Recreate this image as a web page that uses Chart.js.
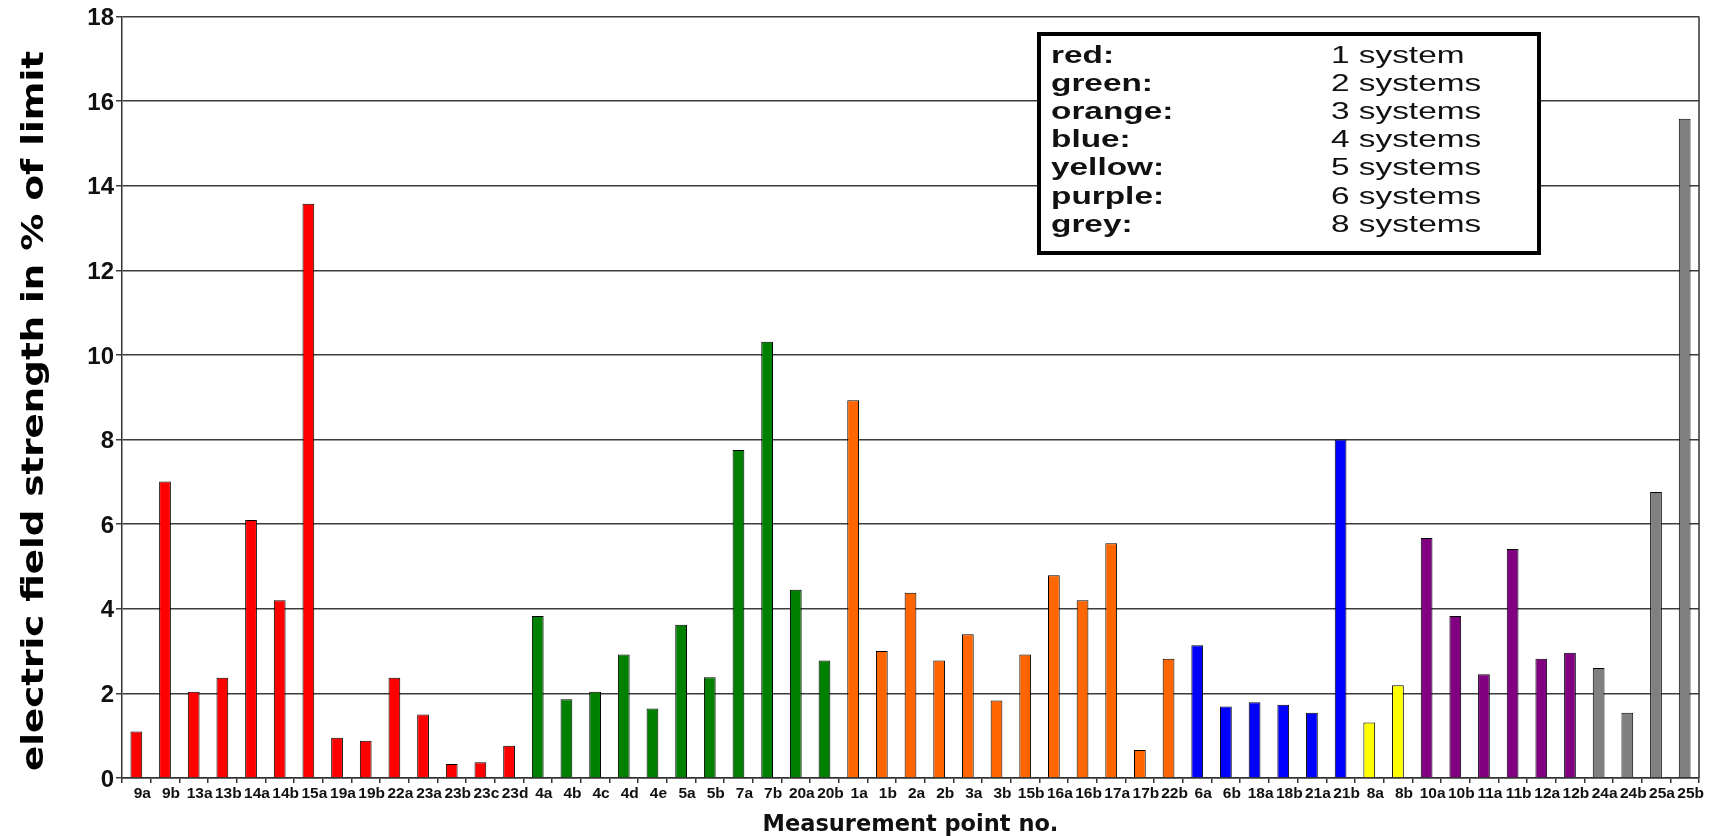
<!DOCTYPE html>
<html><head><meta charset="utf-8">
<script src="https://cdn.jsdelivr.net/npm/chart.js@4"></script>
<style>html,body{margin:0;padding:0;background:#fff;overflow:hidden}#wrap{width:1713px;height:836px;position:relative}</style>
</head><body><div id="wrap"><canvas id="c" width="1713" height="836"></canvas></div>
<script>
const redLabels = ['9a','9b','13a','13b','14a','14b','15a','19a','19b','22a','23a','23b','23c','23d'];
const redValues = [1.10,7.01,2.04,2.37,6.10,4.20,13.57,0.95,0.88,2.37,1.50,0.33,0.37,0.76];
const greenLabels = ['4a','4b','4c','4d','4e','5a','5b','7a','7b','20a','20b'];
const greenValues = [3.83,1.86,2.04,2.92,1.64,3.62,2.38,7.75,10.31,4.45,2.78];
const orangeLabels = ['1a','1b','2a','2b','3a','3b','15b','16a','16b','17a','17b','22b'];
const orangeValues = [8.93,3.00,4.38,2.78,3.40,1.83,2.92,4.79,4.20,5.55,0.66,2.82];
const blueLabels = ['6a','6b','18a','18b','21a','21b'];
const blueValues = [3.14,1.69,1.79,1.73,1.54,8.00];
const yellowLabels = ['8a','8b'];
const yellowValues = [1.31,2.19];
const purpleLabels = ['10a','10b','11a','11b','12a','12b'];
const purpleValues = [5.67,3.83,2.45,5.41,2.82,2.96];
const greyLabels = ['24a','24b','25a','25b'];
const greyValues = [2.60,1.54,6.76,15.58];
const yTickValues = [0,2,4,6,8,10,12,14,16,18];
const legendNames = ['red:','green:','orange:','blue:','yellow:','purple:','grey:'];
const legendCounts = ['1 system','2 systems','3 systems','4 systems','5 systems','6 systems','8 systems'];
const yTitle = 'electric field strength in % of limit';
const xTitle = 'Measurement point no.';

const groups = [
  [redLabels, redValues, '#FF0000'],
  [greenLabels, greenValues, '#008000'],
  [orangeLabels, orangeValues, '#FF6600'],
  [blueLabels, blueValues, '#0000FF'],
  [yellowLabels, yellowValues, '#FFFF00'],
  [purpleLabels, purpleValues, '#800080'],
  [greyLabels, greyValues, '#808080']
];
const labels = [], values = [], colors = [];
groups.forEach(([l, v, c]) => { l.forEach((x, i) => { labels.push(x); values.push(v[i]); colors.push(c); }); });

function stretchedText(ctx, text, x, y, sx) {
  ctx.save();
  ctx.translate(x, y);
  ctx.scale(sx, 1);
  ctx.fillText(text, 0, 0);
  ctx.restore();
}

const extras = {
  id: 'extras',
  afterDraw(chart) {
    const {ctx, chartArea: a} = chart;
    ctx.save();
    // right border
    ctx.strokeStyle = '#333'; ctx.lineWidth = 1.5;
    ctx.beginPath(); ctx.moveTo(a.right, a.top); ctx.lineTo(a.right, a.bottom); ctx.stroke();
    // legend box
    ctx.fillStyle = '#fff';
    ctx.fillRect(1037, 32, 504, 223);
    ctx.strokeStyle = '#000'; ctx.lineWidth = 4;
    ctx.strokeRect(1039, 34, 500, 219);
    ctx.fillStyle = '#111';
    ctx.textBaseline = 'alphabetic'; ctx.textAlign = 'left';
    legendNames.forEach((n, i) => {
      const y = 63 + i * 28.1;
      ctx.font = 'bold 24px "Liberation Sans", Arial, sans-serif';
      stretchedText(ctx, n, 1051, y, 1.39);
      ctx.font = '24px "Liberation Sans", Arial, sans-serif';
      stretchedText(ctx, legendCounts[i], 1331, y, 1.39);
    });
    ctx.restore();
    // y title
    ctx.save();
    ctx.translate(43, 411);
    ctx.rotate(-Math.PI / 2);
    ctx.scale(1.24, 1);
    ctx.font = 'bold 30px "DejaVu Sans", Verdana, sans-serif';
    ctx.textAlign = 'center'; ctx.textBaseline = 'alphabetic';
    ctx.fillStyle = '#000';
    ctx.fillText(yTitle, 0, 0);
    ctx.restore();
  }
};

new Chart(document.getElementById('c'), {
  type: 'bar',
  data: { labels: labels, datasets: [{ data: values, backgroundColor: colors, borderColor: '#000', borderWidth: 1, barPercentage: 0.41, categoryPercentage: 1 }] },
  options: {
    responsive: false, animation: false, devicePixelRatio: 1,
    layout: { padding: { top: 14, right: 14, left: 0, bottom: 0 } },
    plugins: { legend: { display: false }, tooltip: { enabled: false } },
    scales: {
      x: {
        ticks: { autoSkip: false, maxRotation: 0, minRotation: 0, color: '#111', padding: 1, labelOffset: 6,
          font: { family: '"Liberation Sans", Arial, sans-serif', weight: 'bold', size: 15.5 } },
        grid: { display: true, drawOnChartArea: false, drawTicks: true, tickLength: 5, color: '#333', lineWidth: 1.5, offset: true },
        border: { display: true, color: '#333', width: 1.5 },
        title: { display: true, text: xTitle, color: '#111', padding: { top: 0, bottom: 0 },
          font: { family: '"DejaVu Sans", Verdana, sans-serif', weight: 'bold', size: 22.5, lineHeight: 1 } },
        afterFit(s) { s.height = 58; }
      },
      y: {
        min: 0, max: 18,
        afterBuildTicks(s) { s.ticks = yTickValues.map(v => ({ value: v })); },
        ticks: { color: '#111', padding: 2, labelOffset: 2,
          font: { family: '"Liberation Sans", Arial, sans-serif', weight: 'bold', size: 24 } },
        grid: { color: '#3c3c3c', lineWidth: 1.5, tickLength: 6, drawTicks: true },
        border: { display: true, color: '#333', width: 1.5 },
        afterFit(s) { s.width = 122; }
      }
    }
  },
  plugins: [extras]
});
</script></body></html>
